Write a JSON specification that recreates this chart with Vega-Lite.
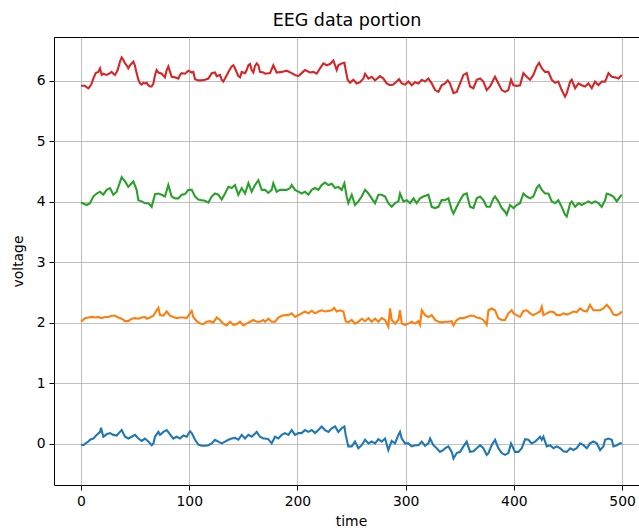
{
"$schema": "https://vega.github.io/schema/vega-lite/v6.json",
"autosize": "none",
"width": 594,
"height": 448,
"padding": {"left": 54, "top": 37, "right": 0, "bottom": 44},
"background": "white",
"title": {"text": "EEG data portion", "fontSize": 17.5, "fontWeight": "normal", "font": "DejaVu Sans", "color": "black", "offset": 8, "anchor": "middle", "frame": "group", "dx": -4},
"config": {
  "view": {"stroke": "black", "strokeWidth": 1},
  "axis": {"labelFont": "DejaVu Sans", "labelFontSize": 13.9, "labelColor": "black", "titleFont": "DejaVu Sans", "titleFontSize": 13.9, "titleFontWeight": "normal", "titleColor": "black", "domain": false, "tickColor": "black", "tickSize": 5, "tickWidth": 1, "labelPadding": 4, "gridColor": "#b0b0b0", "gridWidth": 0.8, "gridOpacity": 1}
},
"datasets": {"eeg": [
{"c":"a","t":0,"v":-0.01},{"c":"a","t":2.2,"v":-0.02},{"c":"a","t":4.3,"v":0.01},{"c":"a","t":6.8,"v":0.04},{"c":"a","t":8.3,"v":0.07},{"c":"a","t":11.4,"v":0.09},{"c":"a","t":14.5,"v":0.15},{"c":"a","t":17.6,"v":0.2},{"c":"a","t":18.5,"v":0.27},{"c":"a","t":20.6,"v":0.12},{"c":"a","t":23.7,"v":0.16},{"c":"a","t":26.8,"v":0.18},{"c":"a","t":29.9,"v":0.15},{"c":"a","t":33,"v":0.14},{"c":"a","t":36,"v":0.2},{"c":"a","t":37.6,"v":0.23},{"c":"a","t":40.7,"v":0.12},{"c":"a","t":43.7,"v":0.09},{"c":"a","t":46.8,"v":0.12},{"c":"a","t":49.9,"v":0.15},{"c":"a","t":53,"v":0.09},{"c":"a","t":56.1,"v":0.05},{"c":"a","t":59.1,"v":0.09},{"c":"a","t":62.2,"v":0.04},{"c":"a","t":65.3,"v":-0.02},{"c":"a","t":66.9,"v":0.01},{"c":"a","t":68.4,"v":0.12},{"c":"a","t":71.5,"v":0.2},{"c":"a","t":73,"v":0.15},{"c":"a","t":76.1,"v":0.2},{"c":"a","t":79.2,"v":0.23},{"c":"a","t":82.3,"v":0.16},{"c":"a","t":85.3,"v":0.09},{"c":"a","t":88.4,"v":0.12},{"c":"a","t":91.5,"v":0.09},{"c":"a","t":94.6,"v":0.14},{"c":"a","t":97.7,"v":0.12},{"c":"a","t":100.7,"v":0.21},{"c":"a","t":102.3,"v":0.18},{"c":"a","t":105.4,"v":0.07},{"c":"a","t":108.4,"v":-0.01},{"c":"a","t":111.5,"v":-0.03},{"c":"a","t":114.6,"v":-0.03},{"c":"a","t":117.7,"v":-0.02},{"c":"a","t":120.8,"v":0.01},{"c":"a","t":123.8,"v":0.07},{"c":"a","t":126.9,"v":0.04},{"c":"a","t":130,"v":0.01},{"c":"a","t":133.1,"v":0.04},{"c":"a","t":136.2,"v":0.07},{"c":"a","t":139.2,"v":0.09},{"c":"a","t":142.3,"v":0.1},{"c":"a","t":145.4,"v":0.07},{"c":"a","t":148.5,"v":0.15},{"c":"a","t":151.6,"v":0.09},{"c":"a","t":154.7,"v":0.15},{"c":"a","t":157.7,"v":0.12},{"c":"a","t":162.4,"v":0.2},{"c":"a","t":165.4,"v":0.12},{"c":"a","t":168.5,"v":0.09},
{"c":"a","t":170.1,"v":0.09},{"c":"a","t":173.1,"v":0.08},{"c":"a","t":176.2,"v":0.01},{"c":"a","t":179.3,"v":0.12},{"c":"a","t":182.4,"v":0.09},{"c":"a","t":185.5,"v":0.15},{"c":"a","t":188.5,"v":0.18},{"c":"a","t":191.6,"v":0.15},{"c":"a","t":194.7,"v":0.23},{"c":"a","t":197.8,"v":0.15},{"c":"a","t":200.9,"v":0.18},{"c":"a","t":203.9,"v":0.18},{"c":"a","t":207,"v":0.23},{"c":"a","t":210.1,"v":0.2},{"c":"a","t":213.2,"v":0.23},{"c":"a","t":216.3,"v":0.18},{"c":"a","t":219.3,"v":0.23},{"c":"a","t":222.4,"v":0.29},{"c":"a","t":225.5,"v":0.23},{"c":"a","t":228.6,"v":0.2},{"c":"a","t":231.7,"v":0.26},{"c":"a","t":234.8,"v":0.29},{"c":"a","t":237.8,"v":0.2},{"c":"a","t":240.9,"v":0.26},{"c":"a","t":243.4,"v":0.29},{"c":"a","t":244.6,"v":0.15},{"c":"a","t":247,"v":-0.04},{"c":"a","t":250.2,"v":-0.04},{"c":"a","t":253.2,"v":0.04},{"c":"a","t":256.3,"v":-0.07},{"c":"a","t":259.4,"v":-0.02},{"c":"a","t":262.5,"v":0.07},{"c":"a","t":265.6,"v":0.01},{"c":"a","t":268.6,"v":0.04},{"c":"a","t":271.7,"v":0.01},{"c":"a","t":274.8,"v":0.08},{"c":"a","t":277.9,"v":0.04},{"c":"a","t":281,"v":0.09},{"c":"a","t":284,"v":-0.1},{"c":"a","t":287.1,"v":0.05},{"c":"a","t":290.2,"v":0.01},{"c":"a","t":293.3,"v":0.15},{"c":"a","t":294.8,"v":0.2},{"c":"a","t":296.4,"v":0.09},{"c":"a","t":299.5,"v":0.01},{"c":"a","t":302.5,"v":0.01},{"c":"a","t":305.6,"v":-0.04},{"c":"a","t":308.7,"v":-0.02},{"c":"a","t":311.8,"v":-0.02},{"c":"a","t":314.9,"v":0.04},{"c":"a","t":317.9,"v":-0.03},{"c":"a","t":321,"v":0.01},{"c":"a","t":322.6,"v":0.09},{"c":"a","t":325.6,"v":-0.02},{"c":"a","t":328.7,"v":-0.07},{"c":"a","t":331.8,"v":-0.13},{"c":"a","t":334.9,"v":-0.1},
{"c":"a","t":336.4,"v":-0.07},{"c":"a","t":339.5,"v":-0.04},{"c":"a","t":342.6,"v":-0.13},{"c":"a","t":344.2,"v":-0.24},{"c":"a","t":347.2,"v":-0.15},{"c":"a","t":350.3,"v":-0.13},{"c":"a","t":353.4,"v":-0.04},{"c":"a","t":356.4,"v":0.04},{"c":"a","t":359.5,"v":-0.13},{"c":"a","t":362.6,"v":-0.12},{"c":"a","t":365.7,"v":-0.07},{"c":"a","t":368.8,"v":-0.02},{"c":"a","t":371.8,"v":-0.07},{"c":"a","t":374.9,"v":-0.18},{"c":"a","t":376.5,"v":-0.15},{"c":"a","t":379.5,"v":-0.02},{"c":"a","t":382.6,"v":0.07},{"c":"a","t":385.7,"v":-0.07},{"c":"a","t":388.8,"v":-0.15},{"c":"a","t":391.9,"v":-0.18},{"c":"a","t":394.9,"v":-0.15},{"c":"a","t":397.4,"v":0.01},{"c":"a","t":401.1,"v":-0.13},{"c":"a","t":404.2,"v":-0.13},{"c":"a","t":407.3,"v":-0.07},{"c":"a","t":410.4,"v":0.08},{"c":"a","t":413.4,"v":0.07},{"c":"a","t":416.5,"v":0.01},{"c":"a","t":419.6,"v":0.04},{"c":"a","t":422.7,"v":0.09},{"c":"a","t":424.2,"v":0.12},{"c":"a","t":425.8,"v":0.07},{"c":"a","t":427.3,"v":0.12},{"c":"a","t":430.4,"v":-0.04},{"c":"a","t":433.5,"v":-0.02},{"c":"a","t":436.6,"v":-0.07},{"c":"a","t":439.6,"v":-0.04},{"c":"a","t":442.7,"v":-0.07},{"c":"a","t":445.8,"v":-0.12},{"c":"a","t":448.9,"v":-0.13},{"c":"a","t":452,"v":-0.07},{"c":"a","t":455,"v":-0.1},{"c":"a","t":458.1,"v":-0.07},{"c":"a","t":461.2,"v":0.01},{"c":"a","t":464.3,"v":-0.02},{"c":"a","t":467.4,"v":-0.07},{"c":"a","t":470.4,"v":0.01},{"c":"a","t":473.5,"v":0.04},{"c":"a","t":476.6,"v":0.01},{"c":"a","t":479.7,"v":-0.1},{"c":"a","t":482.7,"v":-0.04},{"c":"a","t":484.3,"v":0.07},{"c":"a","t":487.4,"v":0.09},{"c":"a","t":490.5,"v":0.07},{"c":"a","t":492,"v":-0.04},{"c":"a","t":495.1,"v":-0.02},{"c":"a","t":498.2,"v":0.01},{"c":"a","t":499.7,"v":0.01},
{"c":"b","t":0,"v":2.02},{"c":"b","t":3.7,"v":2.08},{"c":"b","t":6.8,"v":2.09},{"c":"b","t":9.9,"v":2.1},{"c":"b","t":12.9,"v":2.09},{"c":"b","t":16,"v":2.1},{"c":"b","t":19.1,"v":2.08},{"c":"b","t":22.2,"v":2.1},{"c":"b","t":25.3,"v":2.1},{"c":"b","t":28.3,"v":2.12},{"c":"b","t":31.4,"v":2.12},{"c":"b","t":34.5,"v":2.09},{"c":"b","t":37.6,"v":2.07},{"c":"b","t":40.7,"v":2.03},{"c":"b","t":43.7,"v":2.03},{"c":"b","t":46.8,"v":2.07},{"c":"b","t":49.9,"v":2.08},{"c":"b","t":53,"v":2.07},{"c":"b","t":56.1,"v":2.09},{"c":"b","t":59.1,"v":2.1},{"c":"b","t":60.7,"v":2.07},{"c":"b","t":63.8,"v":2.09},{"c":"b","t":66.9,"v":2.12},{"c":"b","t":69.9,"v":2.21},{"c":"b","t":71.5,"v":2.25},{"c":"b","t":73,"v":2.13},{"c":"b","t":76.1,"v":2.12},{"c":"b","t":79.2,"v":2.19},{"c":"b","t":82.3,"v":2.12},{"c":"b","t":85.3,"v":2.1},{"c":"b","t":88.4,"v":2.08},{"c":"b","t":91.5,"v":2.09},{"c":"b","t":94.6,"v":2.09},{"c":"b","t":97.7,"v":2.08},{"c":"b","t":100.7,"v":2.16},{"c":"b","t":102.3,"v":2.2},{"c":"b","t":103.8,"v":2.1},{"c":"b","t":106.9,"v":2.03},{"c":"b","t":110,"v":1.99},{"c":"b","t":113.1,"v":1.98},{"c":"b","t":116.1,"v":2.02},{"c":"b","t":119.2,"v":2.03},{"c":"b","t":122.3,"v":2.01},{"c":"b","t":125.4,"v":2.09},{"c":"b","t":128.5,"v":2.05},{"c":"b","t":131.5,"v":1.99},{"c":"b","t":134.6,"v":1.96},{"c":"b","t":137.7,"v":2.02},{"c":"b","t":140.8,"v":1.97},{"c":"b","t":143.9,"v":1.98},{"c":"b","t":147,"v":2.02},{"c":"b","t":150,"v":1.96},{"c":"b","t":153.1,"v":1.99},{"c":"b","t":156.2,"v":2.02},{"c":"b","t":159.3,"v":2.05},{"c":"b","t":162.4,"v":2.02},{"c":"b","t":165.4,"v":2.02},{"c":"b","t":168.5,"v":2.05},
{"c":"b","t":170.1,"v":2.02},{"c":"b","t":173.1,"v":2.07},{"c":"b","t":176.2,"v":2.02},{"c":"b","t":179.3,"v":2.02},{"c":"b","t":182.4,"v":2.09},{"c":"b","t":185.5,"v":2.12},{"c":"b","t":188.5,"v":2.13},{"c":"b","t":191.6,"v":2.13},{"c":"b","t":194.7,"v":2.16},{"c":"b","t":197.8,"v":2.1},{"c":"b","t":200.9,"v":2.13},{"c":"b","t":203.9,"v":2.16},{"c":"b","t":207,"v":2.19},{"c":"b","t":210.1,"v":2.16},{"c":"b","t":213.2,"v":2.2},{"c":"b","t":216.3,"v":2.16},{"c":"b","t":219.3,"v":2.19},{"c":"b","t":222.4,"v":2.21},{"c":"b","t":225.5,"v":2.19},{"c":"b","t":228.6,"v":2.2},{"c":"b","t":231.7,"v":2.21},{"c":"b","t":233.9,"v":2.25},{"c":"b","t":236.3,"v":2.19},{"c":"b","t":239.4,"v":2.21},{"c":"b","t":242.5,"v":2.19},{"c":"b","t":244.6,"v":2.03},{"c":"b","t":247,"v":2.01},{"c":"b","t":250.2,"v":2.05},{"c":"b","t":253.2,"v":1.99},{"c":"b","t":256.3,"v":2.02},{"c":"b","t":259.4,"v":2.07},{"c":"b","t":262.5,"v":2.03},{"c":"b","t":265.6,"v":2.08},{"c":"b","t":268.6,"v":2.02},{"c":"b","t":271.7,"v":2.07},{"c":"b","t":274.8,"v":2.02},{"c":"b","t":277.9,"v":2.08},{"c":"b","t":281,"v":2.05},{"c":"b","t":284,"v":1.94},{"c":"b","t":285.6,"v":2.24},{"c":"b","t":287.1,"v":2.05},{"c":"b","t":290.2,"v":1.99},{"c":"b","t":293.3,"v":2.05},{"c":"b","t":294.8,"v":2.21},{"c":"b","t":296.4,"v":1.99},{"c":"b","t":299.5,"v":1.97},{"c":"b","t":302.5,"v":1.99},{"c":"b","t":305.6,"v":2.02},{"c":"b","t":308.7,"v":1.99},{"c":"b","t":311.8,"v":2.03},{"c":"b","t":313.3,"v":1.97},{"c":"b","t":314.9,"v":2.21},{"c":"b","t":317.9,"v":2.13},{"c":"b","t":321,"v":2.1},{"c":"b","t":324.1,"v":2.13},{"c":"b","t":327.2,"v":2.05},{"c":"b","t":330.3,"v":2.02},{"c":"b","t":333.3,"v":2.01},{"c":"b","t":336.4,"v":2.02},
{"c":"b","t":339.5,"v":2.02},{"c":"b","t":342.6,"v":2.03},{"c":"b","t":344.2,"v":1.96},{"c":"b","t":347.2,"v":2.05},{"c":"b","t":350.3,"v":2.08},{"c":"b","t":353.4,"v":2.08},{"c":"b","t":356.4,"v":2.1},{"c":"b","t":359.5,"v":2.12},{"c":"b","t":362.6,"v":2.12},{"c":"b","t":365.7,"v":2.09},{"c":"b","t":368.8,"v":2.08},{"c":"b","t":371.8,"v":2.05},{"c":"b","t":374.9,"v":1.97},{"c":"b","t":376.5,"v":2.21},{"c":"b","t":379.5,"v":2.24},{"c":"b","t":382.6,"v":2.21},{"c":"b","t":385.7,"v":2.08},{"c":"b","t":388.8,"v":2.05},{"c":"b","t":391.9,"v":2.05},{"c":"b","t":394.9,"v":2.16},{"c":"b","t":398,"v":2.21},{"c":"b","t":399.6,"v":2.16},{"c":"b","t":402.6,"v":2.13},{"c":"b","t":405.7,"v":2.1},{"c":"b","t":408.8,"v":2.2},{"c":"b","t":411.9,"v":2.21},{"c":"b","t":415,"v":2.16},{"c":"b","t":418,"v":2.13},{"c":"b","t":421.1,"v":2.16},{"c":"b","t":424.2,"v":2.19},{"c":"b","t":425.8,"v":2.27},{"c":"b","t":427.3,"v":2.13},{"c":"b","t":430.4,"v":2.16},{"c":"b","t":433.5,"v":2.19},{"c":"b","t":436.6,"v":2.18},{"c":"b","t":439.6,"v":2.13},{"c":"b","t":442.7,"v":2.13},{"c":"b","t":445.8,"v":2.16},{"c":"b","t":448.9,"v":2.14},{"c":"b","t":452,"v":2.16},{"c":"b","t":455,"v":2.19},{"c":"b","t":458.1,"v":2.18},{"c":"b","t":461.2,"v":2.24},{"c":"b","t":464.3,"v":2.2},{"c":"b","t":467.4,"v":2.19},{"c":"b","t":470.4,"v":2.3},{"c":"b","t":473.5,"v":2.21},{"c":"b","t":476.6,"v":2.21},{"c":"b","t":479.7,"v":2.21},{"c":"b","t":482.7,"v":2.24},{"c":"b","t":485.8,"v":2.3},{"c":"b","t":488.9,"v":2.24},{"c":"b","t":492,"v":2.14},{"c":"b","t":495.1,"v":2.13},{"c":"b","t":498.2,"v":2.16},{"c":"b","t":499.7,"v":2.19},
{"c":"c","t":0,"v":3.99},{"c":"c","t":5.2,"v":3.95},{"c":"c","t":8.3,"v":3.98},{"c":"c","t":11.4,"v":4.09},{"c":"c","t":14.5,"v":4.14},{"c":"c","t":17.6,"v":4.17},{"c":"c","t":20.6,"v":4.12},{"c":"c","t":23.7,"v":4.2},{"c":"c","t":26.8,"v":4.23},{"c":"c","t":29.9,"v":4.12},{"c":"c","t":33,"v":4.17},{"c":"c","t":37.6,"v":4.41},{"c":"c","t":40.7,"v":4.34},{"c":"c","t":43.7,"v":4.25},{"c":"c","t":46.8,"v":4.31},{"c":"c","t":48.4,"v":4.34},{"c":"c","t":51.4,"v":4.2},{"c":"c","t":53,"v":4.03},{"c":"c","t":56.1,"v":4.01},{"c":"c","t":59.1,"v":3.98},{"c":"c","t":62.2,"v":3.98},{"c":"c","t":65.3,"v":3.92},{"c":"c","t":68.4,"v":4.13},{"c":"c","t":71.5,"v":4.14},{"c":"c","t":74.6,"v":4.12},{"c":"c","t":77.6,"v":4.09},{"c":"c","t":80.7,"v":4.28},{"c":"c","t":83.8,"v":4.09},{"c":"c","t":86.9,"v":4.06},{"c":"c","t":90,"v":4.06},{"c":"c","t":93,"v":4.12},{"c":"c","t":96.1,"v":4.13},{"c":"c","t":99.2,"v":4.2},{"c":"c","t":102.3,"v":4.2},{"c":"c","t":105.4,"v":4.09},{"c":"c","t":108.4,"v":4.04},{"c":"c","t":111.5,"v":4.03},{"c":"c","t":114.6,"v":4.02},{"c":"c","t":117.7,"v":3.99},{"c":"c","t":120.8,"v":4.09},{"c":"c","t":123.8,"v":4.14},{"c":"c","t":126.9,"v":4.12},{"c":"c","t":130,"v":4.04},{"c":"c","t":133.1,"v":4.14},{"c":"c","t":136.2,"v":4.25},{"c":"c","t":139.2,"v":4.23},{"c":"c","t":142.3,"v":4.28},{"c":"c","t":145.4,"v":4.12},{"c":"c","t":148.5,"v":4.23},{"c":"c","t":151.6,"v":4.14},{"c":"c","t":154.7,"v":4.31},{"c":"c","t":157.7,"v":4.17},{"c":"c","t":160.8,"v":4.28},{"c":"c","t":163.9,"v":4.36},{"c":"c","t":167,"v":4.2},{"c":"c","t":170.1,"v":4.2},
{"c":"c","t":173.1,"v":4.15},{"c":"c","t":176.2,"v":4.2},{"c":"c","t":177.7,"v":4.31},{"c":"c","t":180.8,"v":4.17},{"c":"c","t":183.9,"v":4.2},{"c":"c","t":187,"v":4.2},{"c":"c","t":190.1,"v":4.2},{"c":"c","t":193.2,"v":4.23},{"c":"c","t":194.7,"v":4.28},{"c":"c","t":197.8,"v":4.2},{"c":"c","t":200.9,"v":4.17},{"c":"c","t":203.9,"v":4.14},{"c":"c","t":207,"v":4.17},{"c":"c","t":210.1,"v":4.12},{"c":"c","t":213.2,"v":4.2},{"c":"c","t":216.3,"v":4.23},{"c":"c","t":219.3,"v":4.2},{"c":"c","t":222.4,"v":4.28},{"c":"c","t":225.5,"v":4.32},{"c":"c","t":228.6,"v":4.28},{"c":"c","t":231.7,"v":4.3},{"c":"c","t":234.8,"v":4.23},{"c":"c","t":237.8,"v":4.25},{"c":"c","t":240.9,"v":4.2},{"c":"c","t":243.4,"v":4.31},{"c":"c","t":245.5,"v":4.09},{"c":"c","t":247,"v":3.98},{"c":"c","t":250.2,"v":4.12},{"c":"c","t":253.2,"v":3.95},{"c":"c","t":256.3,"v":4.01},{"c":"c","t":259.4,"v":4.09},{"c":"c","t":262.5,"v":4.2},{"c":"c","t":265.6,"v":4.14},{"c":"c","t":268.6,"v":4.06},{"c":"c","t":271.7,"v":3.98},{"c":"c","t":274.8,"v":4.12},{"c":"c","t":277.9,"v":4.12},{"c":"c","t":281,"v":4.09},{"c":"c","t":284,"v":3.98},{"c":"c","t":287.1,"v":3.92},{"c":"c","t":290.2,"v":3.98},{"c":"c","t":293.3,"v":4.01},{"c":"c","t":294.8,"v":4.14},{"c":"c","t":297.9,"v":4.01},{"c":"c","t":301,"v":4.03},{"c":"c","t":304.1,"v":3.98},{"c":"c","t":307.2,"v":4.06},{"c":"c","t":310.2,"v":3.98},{"c":"c","t":313.3,"v":4.06},{"c":"c","t":316.4,"v":4.09},{"c":"c","t":321,"v":4.12},{"c":"c","t":324.1,"v":3.92},{"c":"c","t":327.2,"v":3.9},{"c":"c","t":330.3,"v":3.92},{"c":"c","t":333.3,"v":4.03},
{"c":"c","t":336.4,"v":4.03},{"c":"c","t":339.5,"v":4.06},{"c":"c","t":342.6,"v":3.87},{"c":"c","t":344.2,"v":3.81},{"c":"c","t":347.2,"v":3.92},{"c":"c","t":350.3,"v":4.03},{"c":"c","t":353.4,"v":4.12},{"c":"c","t":356.4,"v":4.14},{"c":"c","t":359.5,"v":3.92},{"c":"c","t":362.6,"v":3.9},{"c":"c","t":365.7,"v":4.06},{"c":"c","t":368.8,"v":4.09},{"c":"c","t":371.8,"v":4.03},{"c":"c","t":374.9,"v":3.92},{"c":"c","t":378,"v":3.92},{"c":"c","t":381.1,"v":4.06},{"c":"c","t":382.6,"v":4.09},{"c":"c","t":385.7,"v":4.01},{"c":"c","t":388.8,"v":3.9},{"c":"c","t":391.9,"v":3.84},{"c":"c","t":393.4,"v":3.79},{"c":"c","t":396.5,"v":3.95},{"c":"c","t":399.6,"v":3.9},{"c":"c","t":402.6,"v":3.95},{"c":"c","t":405.7,"v":3.98},{"c":"c","t":408.8,"v":4.14},{"c":"c","t":411.9,"v":4.09},{"c":"c","t":415,"v":4.06},{"c":"c","t":418,"v":4.09},{"c":"c","t":421.1,"v":4.23},{"c":"c","t":423.3,"v":4.28},{"c":"c","t":425.8,"v":4.2},{"c":"c","t":428.8,"v":4.14},{"c":"c","t":431.9,"v":4.14},{"c":"c","t":435,"v":4.01},{"c":"c","t":438.1,"v":3.98},{"c":"c","t":441.1,"v":4.03},{"c":"c","t":444.2,"v":3.92},{"c":"c","t":447.3,"v":3.79},{"c":"c","t":448.9,"v":3.76},{"c":"c","t":452,"v":3.98},{"c":"c","t":453.5,"v":4.01},{"c":"c","t":456.6,"v":3.92},{"c":"c","t":459.7,"v":3.98},{"c":"c","t":462.7,"v":3.95},{"c":"c","t":465.8,"v":3.98},{"c":"c","t":468.9,"v":4.01},{"c":"c","t":472,"v":3.98},{"c":"c","t":475,"v":4.01},{"c":"c","t":478.1,"v":3.98},{"c":"c","t":481.2,"v":3.92},{"c":"c","t":484.3,"v":4.03},{"c":"c","t":485.8,"v":4.14},{"c":"c","t":488.9,"v":4.12},{"c":"c","t":492,"v":4.09},{"c":"c","t":495.1,"v":4.01},{"c":"c","t":498.2,"v":4.09},{"c":"c","t":499.7,"v":4.12},
{"c":"d","t":0,"v":5.92},{"c":"d","t":3.7,"v":5.92},{"c":"d","t":5.2,"v":5.9},{"c":"d","t":6.8,"v":5.88},{"c":"d","t":8.3,"v":5.91},{"c":"d","t":9.9,"v":5.96},{"c":"d","t":11.4,"v":6.04},{"c":"d","t":13.6,"v":6.13},{"c":"d","t":16,"v":6.15},{"c":"d","t":17.6,"v":6.21},{"c":"d","t":19.1,"v":6.1},{"c":"d","t":20.6,"v":6.12},{"c":"d","t":23.7,"v":6.1},{"c":"d","t":26.8,"v":6.13},{"c":"d","t":28.3,"v":6.15},{"c":"d","t":29.9,"v":6.12},{"c":"d","t":31.4,"v":6.1},{"c":"d","t":33.9,"v":6.18},{"c":"d","t":36,"v":6.32},{"c":"d","t":37.6,"v":6.39},{"c":"d","t":39.1,"v":6.35},{"c":"d","t":40.7,"v":6.29},{"c":"d","t":42.2,"v":6.26},{"c":"d","t":43.7,"v":6.21},{"c":"d","t":45.3,"v":6.26},{"c":"d","t":46.8,"v":6.29},{"c":"d","t":48.4,"v":6.32},{"c":"d","t":49.9,"v":6.25},{"c":"d","t":51.4,"v":6.13},{"c":"d","t":53,"v":6.02},{"c":"d","t":54.5,"v":5.96},{"c":"d","t":56.1,"v":5.94},{"c":"d","t":57.6,"v":5.97},{"c":"d","t":59.1,"v":5.96},{"c":"d","t":60.7,"v":5.97},{"c":"d","t":62.2,"v":5.93},{"c":"d","t":63.8,"v":5.91},{"c":"d","t":65.3,"v":5.91},{"c":"d","t":66.9,"v":5.96},{"c":"d","t":68.4,"v":6.1},{"c":"d","t":69.9,"v":6.18},{"c":"d","t":71.5,"v":6.14},{"c":"d","t":74.6,"v":6.12},{"c":"d","t":77.6,"v":6.06},{"c":"d","t":79.2,"v":6.18},{"c":"d","t":80.7,"v":6.24},{"c":"d","t":82.3,"v":6.15},{"c":"d","t":83.8,"v":6.07},{"c":"d","t":86.9,"v":6.06},{"c":"d","t":90,"v":6.04},{"c":"d","t":91.5,"v":6.1},{"c":"d","t":93,"v":6.13},{"c":"d","t":96.1,"v":6.12},{"c":"d","t":99.2,"v":6.17},{"c":"d","t":102.3,"v":6.14},{"c":"d","t":103.8,"v":6.15},{"c":"d","t":105.4,"v":6.03},{"c":"d","t":108.4,"v":6.01},{"c":"d","t":111.5,"v":6.01},{"c":"d","t":114.6,"v":6.02},{"c":"d","t":117.7,"v":6.04},{"c":"d","t":120.8,"v":6.13},{"c":"d","t":123.8,"v":6.14},{"c":"d","t":125.4,"v":6.08},{"c":"d","t":128.5,"v":6.1},{"c":"d","t":130,"v":6.02},{"c":"d","t":131.5,"v":5.99},{"c":"d","t":133.1,"v":6.04},{"c":"d","t":136.2,"v":6.15},{"c":"d","t":139.2,"v":6.24},{"c":"d","t":140.8,"v":6.26},{"c":"d","t":142.3,"v":6.21},{"c":"d","t":145.4,"v":6.08},{"c":"d","t":147,"v":6.06},{"c":"d","t":148.5,"v":6.15},{"c":"d","t":151.6,"v":6.13},{"c":"d","t":153.1,"v":6.18},{"c":"d","t":154.7,"v":6.26},{"c":"d","t":156.2,"v":6.28},{"c":"d","t":157.7,"v":6.18},{"c":"d","t":159.3,"v":6.14},{"c":"d","t":160.8,"v":6.25},{"c":"d","t":162.4,"v":6.29},{"c":"d","t":163.9,"v":6.26},{"c":"d","t":165.4,"v":6.15},{"c":"d","t":168.5,"v":6.14},
{"c":"d","t":170.1,"v":6.12},{"c":"d","t":174.7,"v":6.13},{"c":"d","t":177.7,"v":6.26},{"c":"d","t":180.8,"v":6.14},{"c":"d","t":185.5,"v":6.15},{"c":"d","t":190.1,"v":6.17},{"c":"d","t":194.7,"v":6.13},{"c":"d","t":197.8,"v":6.1},{"c":"d","t":200.9,"v":6.08},{"c":"d","t":203.9,"v":6.13},{"c":"d","t":207,"v":6.18},{"c":"d","t":211.6,"v":6.14},{"c":"d","t":214.7,"v":6.15},{"c":"d","t":217.8,"v":6.12},{"c":"d","t":220.9,"v":6.21},{"c":"d","t":224,"v":6.29},{"c":"d","t":227,"v":6.26},{"c":"d","t":230.1,"v":6.28},{"c":"d","t":233.2,"v":6.34},{"c":"d","t":236.3,"v":6.18},{"c":"d","t":237.8,"v":6.26},{"c":"d","t":240.9,"v":6.29},{"c":"d","t":243.4,"v":6.3},{"c":"d","t":244.6,"v":6.18},{"c":"d","t":246.4,"v":6.02},{"c":"d","t":248.6,"v":5.97},{"c":"d","t":251.7,"v":6.02},{"c":"d","t":254.8,"v":5.96},{"c":"d","t":257.9,"v":5.98},{"c":"d","t":261,"v":6.04},{"c":"d","t":262.5,"v":6.12},{"c":"d","t":265.6,"v":6.04},{"c":"d","t":268.6,"v":6.07},{"c":"d","t":271.7,"v":6.01},{"c":"d","t":276.3,"v":6.08},{"c":"d","t":279.4,"v":6.04},{"c":"d","t":282.5,"v":5.96},{"c":"d","t":285.6,"v":5.93},{"c":"d","t":288.6,"v":5.94},{"c":"d","t":291.7,"v":5.99},{"c":"d","t":293.9,"v":6.03},{"c":"d","t":296.4,"v":5.96},{"c":"d","t":299.5,"v":5.94},{"c":"d","t":302.5,"v":5.99},{"c":"d","t":305.6,"v":5.93},{"c":"d","t":308.7,"v":5.98},{"c":"d","t":311.8,"v":5.96},{"c":"d","t":314.9,"v":6.02},{"c":"d","t":317.9,"v":5.99},{"c":"d","t":321,"v":6.04},{"c":"d","t":324.1,"v":5.96},{"c":"d","t":327.2,"v":5.85},{"c":"d","t":330.3,"v":5.82},{"c":"d","t":333.3,"v":5.93},
{"c":"d","t":336.4,"v":5.96},{"c":"d","t":338.9,"v":6.01},{"c":"d","t":341,"v":5.96},{"c":"d","t":344.2,"v":5.8},{"c":"d","t":347.2,"v":5.82},{"c":"d","t":350.3,"v":5.96},{"c":"d","t":353.4,"v":6.1},{"c":"d","t":356.4,"v":6.13},{"c":"d","t":359.5,"v":5.91},{"c":"d","t":362.6,"v":5.88},{"c":"d","t":365.7,"v":6.02},{"c":"d","t":368.8,"v":6.04},{"c":"d","t":371.8,"v":5.99},{"c":"d","t":374.9,"v":5.85},{"c":"d","t":378,"v":5.91},{"c":"d","t":381.1,"v":6.02},{"c":"d","t":382.6,"v":6.07},{"c":"d","t":385.7,"v":5.96},{"c":"d","t":388.8,"v":5.85},{"c":"d","t":391.9,"v":5.82},{"c":"d","t":394.9,"v":5.85},{"c":"d","t":397.4,"v":6.02},{"c":"d","t":399.6,"v":5.93},{"c":"d","t":402.6,"v":5.92},{"c":"d","t":405.7,"v":5.93},{"c":"d","t":408.8,"v":6.13},{"c":"d","t":411.9,"v":6.07},{"c":"d","t":415,"v":6.02},{"c":"d","t":418,"v":6.1},{"c":"d","t":421.1,"v":6.24},{"c":"d","t":423.3,"v":6.3},{"c":"d","t":425.8,"v":6.21},{"c":"d","t":428.8,"v":6.15},{"c":"d","t":431.9,"v":6.15},{"c":"d","t":435,"v":6.02},{"c":"d","t":438.1,"v":5.97},{"c":"d","t":441.1,"v":5.99},{"c":"d","t":444.2,"v":5.85},{"c":"d","t":447.3,"v":5.74},{"c":"d","t":448.9,"v":5.8},{"c":"d","t":452,"v":5.99},{"c":"d","t":453.5,"v":6.02},{"c":"d","t":456.6,"v":5.88},{"c":"d","t":459.7,"v":5.96},{"c":"d","t":462.7,"v":5.93},{"c":"d","t":465.8,"v":5.91},{"c":"d","t":468.9,"v":5.96},{"c":"d","t":472,"v":5.88},{"c":"d","t":475,"v":5.99},{"c":"d","t":478.1,"v":5.93},{"c":"d","t":481.2,"v":5.99},{"c":"d","t":484.3,"v":5.99},{"c":"d","t":487.4,"v":6.13},{"c":"d","t":490.5,"v":6.07},{"c":"d","t":493.5,"v":6.06},{"c":"d","t":496.6,"v":6.04},{"c":"d","t":499.7,"v":6.1}
]},
"data": {"name": "eeg"},
"mark": {"type": "line", "strokeWidth": 2.1, "clip": true},
"encoding": {
  "x": {"field": "t", "type": "quantitative", "title": "time", "scale": {"domain": [-24.95, 523.95], "nice": false, "zero": false}, "axis": {"values": [0, 100, 200, 300, 400, 500], "titlePadding": 7}},
  "y": {"field": "v", "type": "quantitative", "title": "voltage", "scale": {"domain": [-0.678, 6.727], "nice": false, "zero": false}, "axis": {"values": [0, 1, 2, 3, 4, 5, 6], "titlePadding": 11}},
  "color": {"field": "c", "type": "nominal", "scale": {"domain": ["a", "b", "c", "d"], "range": ["#1f77b4", "#ff7f0e", "#2ca02c", "#d62728"]}, "legend": null}
}
}
